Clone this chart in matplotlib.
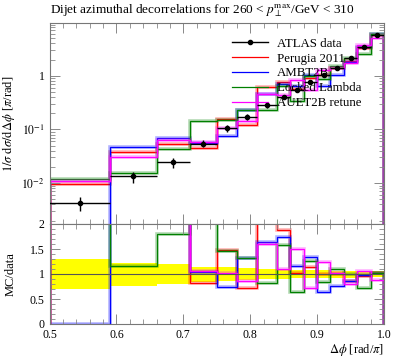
import matplotlib
matplotlib.use('Agg')
import matplotlib.pyplot as plt
import numpy as np
from matplotlib.ticker import FixedLocator, MultipleLocator, NullFormatter, FixedFormatter

plt.rcParams['font.family'] = ['Liberation Serif', 'DejaVu Serif']
plt.rcParams['mathtext.fontset'] = 'stix'

# bin edges in dphi [rad/pi]
edges = np.array([0.5, 0.59, 0.66, 0.71, 0.75, 0.78, 0.81, 0.84, 0.86,
                  0.88, 0.90, 0.92, 0.94, 0.96, 0.98, 1.0])

data = np.array([0.0043, 0.0133, 0.0244, 0.0546, 0.104, 0.170, 0.282, 0.404,
                 0.546, 0.78, 1.03, 1.37, 2.15, 3.5, 5.8])
data_relerr = np.array([0.30, 0.23, 0.20, 0.15, 0.14, 0.12, 0.10, 0.09,
                        0.08, 0.08, 0.08, 0.07, 0.07, 0.06, 0.06])

perugia = np.array([0.0097, 0.0381, 0.0546, 0.0453, 0.153, 0.121, 0.605, 0.76,
                    0.562, 0.897, 1.03, 1.38, 1.85, 3.33, 5.86])
ambt2b = np.array([0.0, 0.0473, 0.0698, 0.0563, 0.076, 0.226, 0.465, 0.699,
                   0.633, 1.05, 0.65, 1.03, 1.83, 3.43, 5.97])
locked = np.array([0.0120, 0.0154, 0.044, 0.141, 0.151, 0.226, 0.234, 0.638,
                   0.344, 0.99, 0.865, 1.51, 2.17, 2.49, 5.97])
auet2b = np.array([0.0110, 0.0308, 0.063, 0.058, 0.107, 0.146, 0.454, 0.444,
                   0.824, 0.554, 1.27, 1.41, 1.74, 3.68, 5.1])

mc_names = ['Perugia 2011', 'AMBT2B', 'Locked Lambda', 'AUET2B retune']
mc_vals = [perugia, ambt2b, locked, auet2b]
mc_cols = ['red', 'blue', 'green', 'magenta']

xticks = [0.5, 0.6, 0.7, 0.8, 0.9, 1.0]
xticklabels = ['0.5', '0.6', '0.7', '0.8', '0.9', '1.0']
rticks = [0, 0.5, 1, 1.5, 2]
rticklabels = ['0', '0.5', '1', '1.5', '2']

W, H = 397, 358
fig = plt.figure(figsize=(W / 100, H / 100), dpi=100)
l, r = 49.5 / W, 384 / W
ax = fig.add_axes([l, (H - 224) / H, r - l, 201 / H])
axr = fig.add_axes([l, (H - 324) / H, r - l, 100 / H])

centers = 0.5 * (edges[:-1] + edges[1:])
halfw = 0.5 * np.diff(edges)

# main panel
for vals, col in zip(mc_vals, mc_cols):
    ax.stairs(vals, edges, color=col, lw=2.6, alpha=0.3)
    ax.stairs(vals, edges, color=col, lw=0.9)
ax.errorbar(centers, data, xerr=halfw, yerr=data * data_relerr, fmt='o',
            color='black', ms=3, lw=1.0, capsize=0, zorder=5)

ax.set_yscale('log')
ax.set_xlim(0.5, 1.0)
ax.set_ylim(1.73e-3, 9.6)
ax.yaxis.set_major_locator(FixedLocator([1e-2, 1e-1, 1]))
ax.yaxis.set_major_formatter(FixedFormatter([r'$10^{-2}$', r'$10^{-1}$', '1']))
ax.yaxis.set_minor_formatter(NullFormatter())
ax.xaxis.set_major_locator(FixedLocator(xticks))
ax.xaxis.set_minor_locator(MultipleLocator(0.02))
ax.tick_params(labelbottom=False)
ax.set_ylabel(r'$1/\sigma\ \mathrm{d}\sigma/\mathrm{d}\Delta\phi$ [$\pi$/rad]', fontsize=9)
ax.set_title(r'Dijet azimuthal decorrelations for 260 < $p_\perp^\mathrm{max}$/GeV < 310',
             fontsize=9.5, loc='left', pad=7)

# legend
hd, = ax.plot([], [], 'o-', color='black', ms=3, lw=1.0)
handles = [hd] + [ax.plot([], [], color=c, lw=0.9)[0] for c in mc_cols]
ax.legend(handles, ['ATLAS data'] + mc_names, loc='upper left',
          bbox_to_anchor=(0.51, 0.985), frameon=False, fontsize=9.3,
          handlelength=2.8, handletextpad=0.7, labelspacing=0.22)

# ratio panel
axr.stairs(1 + data_relerr, edges, baseline=1 - data_relerr, fill=True,
           color='yellow', lw=0)
axr.axhline(1.0, color='#555555', lw=0.8)
for vals, col in zip(mc_vals, mc_cols):
    ratio = vals / data
    axr.stairs(ratio, edges, color=col, lw=2.6, alpha=0.3)
    axr.stairs(ratio, edges, color=col, lw=0.9)
axr.set_xlim(0.5, 1.0)
axr.set_ylim(0, 2)
axr.yaxis.set_major_locator(FixedLocator(rticks))
axr.yaxis.set_major_formatter(FixedFormatter(rticklabels))
axr.yaxis.set_minor_locator(MultipleLocator(0.1))
axr.xaxis.set_major_locator(FixedLocator(xticks))
axr.xaxis.set_major_formatter(FixedFormatter(xticklabels))
axr.xaxis.set_minor_locator(MultipleLocator(0.02))
axr.set_ylabel('MC/data', fontsize=9)
axr.set_xlabel(r'$\Delta\phi$ [rad/$\pi$]', fontsize=9, loc='right', labelpad=1)

for a in (ax, axr):
    a.tick_params(which='both', direction='in', top=True, right=True,
                  color='#888888', labelsize=8.5)
    a.tick_params(which='major', length=7, width=0.7)
    a.tick_params(which='minor', length=3.5, width=0.6)
    for s in a.spines.values():
        s.set_color('#777777')
        s.set_linewidth(0.8)
ax.yaxis.set_label_coords(-0.098, 0.5)
axr.yaxis.set_label_coords(-0.098, 0.5)

fig.savefig('out.png', dpi=100)
